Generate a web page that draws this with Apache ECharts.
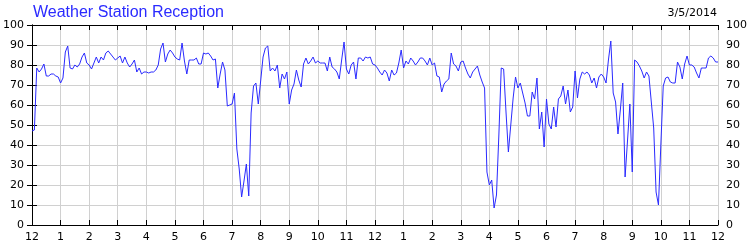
<!DOCTYPE html>
<html><head><meta charset="utf-8">
<script src="https://cdn.jsdelivr.net/npm/echarts@6/dist/echarts.min.js"></script>
<style>html,body{margin:0;padding:0;background:#fff}#c{width:750px;height:250px}</style>
</head><body><div id="c"></div>
<script>
// Reception (%) sampled every 5 minutes from 12 AM to 12 AM next day
const sampleMinutes = 5;
const hourTickLabels = ['12','1','2','3','4','5','6','7','8','9','10','11','12','1','2','3','4','5','6','7','8','9','10','11','12'];
const yTicks = [0,10,20,30,40,50,60,70,80,90,100];
const reception = [
 47,47.5,78.5,76.5,78,80.5,74.5,74.5,75.5,75.5,74.5,74,
 71,73.5,86.5,89.5,78.5,78,80,79,80.5,84,86,81,
 80,78,81,84,81,84,82.5,86,87,85.5,84,82.5,
 83.5,84.5,81,84,81,79,80.5,82.5,76.5,78.5,75.5,76.5,
 76.5,76,76.5,76.5,77.5,80,88,91,81.5,85.5,87.5,86,
 84,83,82.5,91,82,75.5,82.5,82.5,82.5,83.5,80.5,80.5,
 86,85.5,86,84.5,82.5,83,68.5,75.5,81.5,77.5,59.5,60,
 60.5,66,38,28,14,22,30.5,14.5,56,69.5,71,60.5,
 72,84,88.5,89.5,77,78.5,77,80,68.5,75.5,73,76.5,
 60.5,67.5,70.5,77.5,72.5,69,80.5,83.5,80.5,82,84,81,
 82,81,81,81,77,84,79,78,76.5,73,82.5,91.5,
 78,75.5,80,81.5,73,83.5,83.5,82,84,83.5,84,80.5,
 80,78.5,76.5,75,77.5,76,72,77.5,75,76,81,87.5,
 78.5,82,80.5,83.5,82,80,81.5,83.5,83.5,82,80,83.5,
 80,81,74.5,74,66.5,70.5,72,73,86,80.5,79.5,77,
 81.5,82,78.5,75.5,73.5,76.5,78,79.5,75,71.5,68.5,26.5,
 20,22.5,8.5,15,45,78.5,78,56.5,36.5,50,63.5,74,
 68.5,71,66,61,54.5,54.5,66.5,63,73.5,48,56.5,39,
 63,50.5,48,59,49,63,64.5,69.5,60.5,67.5,56.5,59,
 77,63.5,73,76.5,75.5,76.5,75,71,73.5,68.5,74,75.5,
 74,71,82.5,92,66,61.5,45.5,57.5,71,24,42,60.5,
 26.5,82.5,81.5,79.5,77,73.5,76.5,74.5,61.5,48.5,16.5,10,
 40,69.5,73.5,74,71.5,71,71,81.5,79,73,80.5,84.5,
 80,80,79,76,73.5,78.5,78.5,78.5,83.5,84.5,83.5,81.5,
 81.5
];
const titleText = 'Weather Station Reception';
const dateText = '3/5/2014';

const seriesData = reception.map((v, i) => [i * sampleMinutes / 60, v]);
const tickFont = {fontFamily: 'DejaVu Sans', fontSize: 11, color: '#000'};
const chart = echarts.init(document.getElementById('c'), null, {renderer: 'canvas'});
const yAxisBase = {
  type: 'value', min: yTicks[0], max: yTicks[yTicks.length-1], interval: 10,
  axisLine: {show: true, lineStyle: {color: '#000', width: 1}},
  axisTick: {show: true, inside: true, length: 5, lineStyle: {color: '#000'}},
  splitLine: {show: true, lineStyle: {color: '#d0d0d0', width: 1}},
  axisLabel: Object.assign({margin: 8}, tickFont)
};
chart.setOption({
  animation: false,
  backgroundColor: '#fff',
  title: [
    {text: titleText, left: 28, top: 0, textStyle: {fontFamily: 'Liberation Sans', fontSize: 16, fontWeight: 'normal', color: '#2a2aff'}},
    {text: dateText, right: 28, top: 3, textStyle: {fontFamily: 'DejaVu Sans', fontSize: 11, fontWeight: 'normal', color: '#000'}}
  ],
  grid: {left: 30, right: 30, top: 25, bottom: 25, containLabel: false},
  xAxis: [
    {type: 'value', min: 0, max: 24, interval: 1, position: 'bottom',
     axisLine: {show: true, onZero: false, lineStyle: {color: '#000', width: 1}},
     axisTick: {show: true, inside: true, length: 5, lineStyle: {color: '#000'}},
     splitLine: {show: true, lineStyle: {color: '#d0d0d0', width: 1}},
     axisLabel: Object.assign({margin: 7, formatter: v => hourTickLabels[Math.round(v)]}, tickFont)},
    {type: 'value', min: 0, max: 24, interval: 1, position: 'top',
     axisLine: {show: true, onZero: false, lineStyle: {color: '#000', width: 1}},
     axisTick: {show: true, inside: true, length: 5, lineStyle: {color: '#000'}},
     splitLine: {show: false}, axisLabel: {show: false}}
  ],
  yAxis: [
    Object.assign({}, yAxisBase, {position: 'left'}),
    Object.assign({}, yAxisBase, {position: 'right', splitLine: {show: false}})
  ],
  series: [{
    type: 'line', data: seriesData, showSymbol: false, symbol: 'none',
    lineStyle: {color: '#2a2aff', width: 1}, xAxisIndex: 0, yAxisIndex: 0
  }]
});
</script></body></html>
